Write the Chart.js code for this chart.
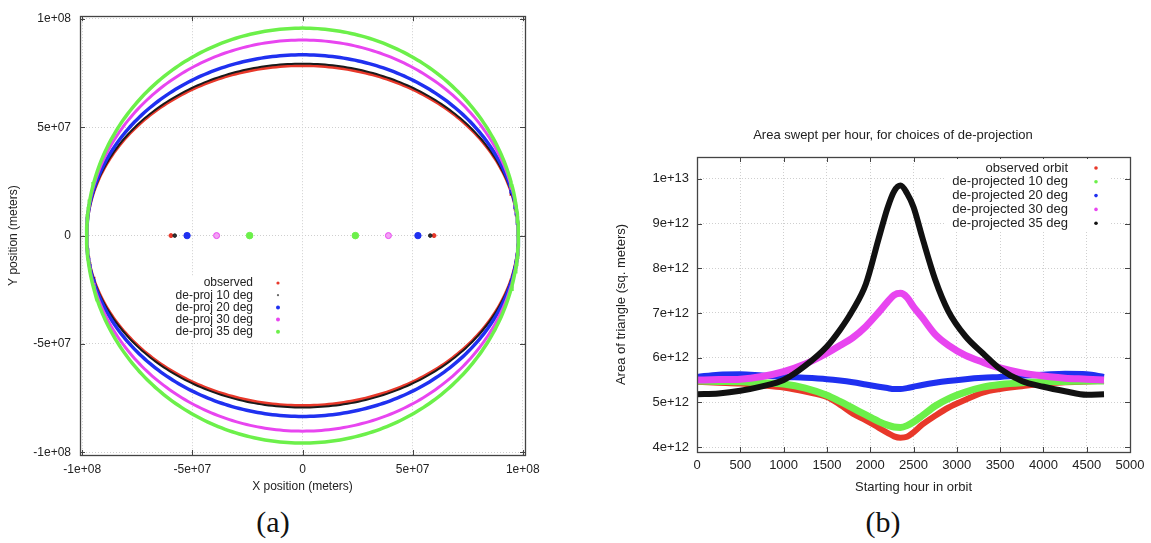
<!DOCTYPE html>
<html lang="en">
<head>
<meta charset="UTF-8">
<title>Orbit de-projection</title>
<script src="https://cdn.jsdelivr.net/npm/chart.js"></script>
<style>
  body { margin: 0; background: #fff; width: 1151px; height: 543px; position: relative; overflow: hidden; }
  canvas { position: absolute; }
  #orbitChart { left: 0; top: 0; }
  #areaChart { left: 580px; top: 110px; }
  .caption { position: absolute; font-family: 'Liberation Serif', serif; font-size: 30px; color: #111; transform: translate(-50%, -50%); }
</style>
</head>
<body>
<canvas id="orbitChart" width="570" height="500"></canvas>
<canvas id="areaChart" width="571" height="390"></canvas>
<div class="caption" style="left:273px; top:522px">(a)</div>
<div class="caption" style="left:883px; top:522px">(b)</div>
<script>
// (a) orbit outlines: semi-axes and focus offsets in meters
const orbitLabels = ['observed', 'de-proj 10 deg', 'de-proj 20 deg', 'de-proj 30 deg', 'de-proj 35 deg'];
const orbitColors = ['#e8382a', '#1a1a1a', '#1f30f0', '#e845f0', '#6cf04a'];
const orbitKeyColors = ['#e8382a', '#666666', '#1f30f0', '#e845f0', '#6cf04a'];
const semiMajor = [0.98e8, 0.98e8, 0.98e8, 0.98e8, 0.98e8];
const semiMinor = [0.784e8, 0.793e8, 0.834e8, 0.902e8, 0.957e8];
const focusX = [5.97e7, 5.8e7, 5.24e7, 3.9e7, 2.4e7];
const orbitTicks = [-1e8, -5e7, 0, 5e7, 1e8];
const orbitTickLabels = ['-1e+08', '-5e+07', '0', '5e+07', '1e+08'];

// (b) area swept per hour, in units of 1e12 sq. meters
const areaTitle = 'Area swept per hour, for choices of de-projection';
const areaLabels = ['observed orbit', 'de-projected 10 deg', 'de-projected 20 deg', 'de-projected 30 deg', 'de-projected 35 deg'];
const areaColors = ['#e8382a', '#6cf04a', '#1f30f0', '#e845f0', '#111111'];
const hours = [0, 250, 500, 750, 1000, 1250, 1500, 1650, 1800, 1950, 2100, 2200, 2275, 2350, 2425, 2500, 2600, 2750, 2900, 3100, 3300, 3500, 3750, 4000, 4250, 4500, 4700];
const areaObserved = [5.46, 5.44, 5.42, 5.38, 5.33, 5.24, 5.12, 4.95, 4.75, 4.60, 4.43, 4.32, 4.24, 4.21, 4.23, 4.33, 4.50, 4.70, 4.88, 5.06, 5.22, 5.30, 5.36, 5.42, 5.45, 5.47, 5.48];
const area10 = [5.48, 5.47, 5.46, 5.44, 5.41, 5.32, 5.16, 5.02, 4.87, 4.72, 4.57, 4.49, 4.45, 4.44, 4.48, 4.56, 4.70, 4.92, 5.08, 5.23, 5.34, 5.40, 5.44, 5.46, 5.47, 5.48, 5.48];
const area20 = [5.57, 5.62, 5.63, 5.60, 5.57, 5.55, 5.52, 5.49, 5.45, 5.40, 5.35, 5.32, 5.30, 5.30, 5.32, 5.35, 5.39, 5.44, 5.48, 5.52, 5.55, 5.57, 5.60, 5.62, 5.64, 5.63, 5.57];
const area30 = [5.50, 5.51, 5.52, 5.58, 5.69, 5.86, 6.10, 6.27, 6.45, 6.70, 7.02, 7.25, 7.40, 7.44, 7.35, 7.14, 6.90, 6.52, 6.28, 6.05, 5.90, 5.77, 5.66, 5.59, 5.54, 5.52, 5.50];
const area35 = [5.18, 5.20, 5.26, 5.36, 5.50, 5.82, 6.25, 6.62, 7.07, 7.65, 8.68, 9.35, 9.72, 9.85, 9.68, 9.37, 8.70, 7.75, 7.05, 6.48, 6.10, 5.75, 5.48, 5.35, 5.25, 5.17, 5.18];
const hourTicks = [0, 500, 1000, 1500, 2000, 2500, 3000, 3500, 4000, 4500, 5000];
const areaTicks = [4, 5, 6, 7, 8, 9, 10];
const areaTickLabels = ['4e+12', '5e+12', '6e+12', '7e+12', '8e+12', '9e+12', '1e+13'];

Chart.defaults.font.family = "'Liberation Sans', Arial, sans-serif";
Chart.defaults.color = '#222';

// box around the plot with inward tick marks on all four sides
const framePlugin = {
  id: 'frame',
  afterDraw(chart) {
    const { ctx, chartArea: a, scales } = chart;
    const t = 5;
    ctx.save();
    ctx.strokeStyle = '#444';
    ctx.lineWidth = 1;
    ctx.beginPath();
    scales.x.ticks.forEach(tk => {
      const px = Math.round(scales.x.getPixelForValue(tk.value)) + 0.5;
      ctx.moveTo(px, a.top); ctx.lineTo(px, a.top + t);
      ctx.moveTo(px, a.bottom); ctx.lineTo(px, a.bottom - t);
    });
    scales.y.ticks.forEach(tk => {
      const py = Math.round(scales.y.getPixelForValue(tk.value)) + 0.5;
      ctx.moveTo(a.left, py); ctx.lineTo(a.left + t, py);
      ctx.moveTo(a.right, py); ctx.lineTo(a.right - t, py);
    });
    ctx.stroke();
    ctx.lineWidth = 1.3;
    ctx.strokeRect(Math.round(a.left) + 0.5, Math.round(a.top) + 0.5, Math.round(a.right - a.left), Math.round(a.bottom - a.top));
    ctx.restore();
  }
};

// key with right-aligned text and a dot marker to its right, plus an optional heading
const keyPlugin = {
  id: 'key',
  afterDraw(chart, args, o) {
    const ctx = chart.ctx;
    ctx.save();
    ctx.font = o.font;
    ctx.textBaseline = 'middle';
    if (o.heading) {
      ctx.fillStyle = '#222';
      ctx.textAlign = 'center';
      ctx.fillText(o.heading, o.headingX, o.headingY);
    }
    ctx.fillStyle = '#fff';
    ctx.fillRect(o.box[0], o.box[1], o.box[2], o.box[3]);
    ctx.textAlign = 'right';
    o.labels.forEach((text, i) => {
      const y = o.y + i * o.step;
      ctx.fillStyle = '#222';
      ctx.fillText(text, o.textRight, y);
      ctx.fillStyle = o.colors[i];
      ctx.beginPath();
      ctx.arc(o.markX, y, o.radii[i], 0, Math.PI * 2);
      ctx.fill();
    });
    ctx.restore();
  }
};

function orbitPoints(a, b) {
  const pts = [];
  for (let k = 0; k <= 360; k++) {
    const t = k * Math.PI / 180;
    pts.push({ x: a * Math.cos(t), y: b * Math.sin(t) });
  }
  return pts;
}

const outlineWidths = [3, 2, 3.5, 3, 3.5];
const focusRadii = [2, 1.8, 3.2, 3, 3.3];
const focusFill = ['#e8382a', '#333333', '#1f30f0', '#f3a2f5', '#6cf04a'];

const orbitSets = [];
orbitLabels.forEach((name, i) => {
  orbitSets.push({
    label: name,
    data: orbitPoints(semiMajor[i], semiMinor[i]),
    showLine: true,
    borderColor: orbitColors[i],
    borderWidth: outlineWidths[i],
    pointRadius: 0,
    tension: 0,
    order: 10 - i
  });
  orbitSets.push({
    label: name + ' foci',
    data: [{ x: -focusX[i], y: 0 }, { x: focusX[i], y: 0 }],
    pointRadius: focusRadii[i],
    pointBackgroundColor: focusFill[i],
    pointBorderColor: orbitColors[i],
    pointBorderWidth: 1,
    order: 5 - i
  });
});

function fixedTicks(values) {
  return scale => { scale.ticks = values.map(v => ({ value: v })); };
}

new Chart(document.getElementById('orbitChart'), {
  type: 'scatter',
  data: { datasets: orbitSets },
  options: {
    responsive: false,
    animation: false,
    layout: { padding: { left: 0, right: 45, top: 10, bottom: 0 } },
    plugins: {
      legend: { display: false },
      tooltip: { enabled: false },
      key: {
        labels: orbitLabels, colors: orbitKeyColors, radii: [1.6, 1.1, 2, 2, 2],
        font: "12px 'Liberation Sans', Arial, sans-serif",
        textRight: 253, markX: 278, y: 283, step: 12.2,
        box: [168, 276, 122, 63]
      }
    },
    scales: {
      x: {
        type: 'linear', min: -1.01e8, max: 1.01e8,
        afterBuildTicks: fixedTicks(orbitTicks),
        afterFit: s => { s.height = 45; },
        ticks: { font: { size: 12 }, padding: 7, maxRotation: 0, callback: (v, i) => orbitTickLabels[i] },
        grid: { color: '#cfcfcf', drawTicks: false },
        border: { display: false, dash: [1, 2] },
        title: { display: true, text: 'X position (meters)', font: { size: 12 }, padding: { top: 0, bottom: 6 } }
      },
      y: {
        type: 'linear', min: -1.012e8, max: 1.012e8,
        afterBuildTicks: fixedTicks(orbitTicks),
        afterFit: s => { s.width = 80; },
        ticks: { font: { size: 12 }, padding: 9, callback: (v, i) => orbitTickLabels[i] },
        grid: { color: '#cfcfcf', drawTicks: false },
        border: { display: false, dash: [1, 2] },
        title: { display: true, text: 'Y position (meters)', font: { size: 12 }, padding: { top: 6, bottom: 0 } }
      }
    }
  },
  plugins: [framePlugin, keyPlugin]
});

const areaSeries = [areaObserved, area10, area20, area30, area35];
const bandWidths = [6, 7, 6, 7, 6];

new Chart(document.getElementById('areaChart'), {
  type: 'scatter',
  data: {
    datasets: areaSeries.map((vals, i) => ({
      label: areaLabels[i],
      data: hours.map((h, k) => ({ x: h, y: vals[k] })),
      showLine: true,
      borderColor: areaColors[i],
      borderWidth: bandWidths[i],
      pointRadius: 0,
      cubicInterpolationMode: 'monotone',
      order: 5 - i
    }))
  },
  options: {
    responsive: false,
    animation: false,
    layout: { padding: { left: 0, right: 21, top: 47, bottom: 0 } },
    plugins: {
      legend: { display: false },
      tooltip: { enabled: false },
      key: {
        heading: areaTitle, headingX: 313, headingY: 25,
        labels: areaLabels, colors: areaColors, radii: [1.8, 1.8, 1.8, 1.8, 1.8],
        font: "13px 'Liberation Sans', Arial, sans-serif",
        textRight: 488, markX: 516, y: 58, step: 13.8,
        box: [364, 49, 166, 72]
      }
    },
    scales: {
      x: {
        type: 'linear', min: 0, max: 5000,
        afterBuildTicks: fixedTicks(hourTicks),
        afterFit: s => { s.height = 48; },
        ticks: { font: { size: 13 }, padding: 6, maxRotation: 0, callback: v => String(v) },
        grid: { color: '#cfcfcf', drawTicks: false },
        border: { display: false, dash: [1, 2] },
        title: { display: true, text: 'Starting hour in orbit', font: { size: 13 }, padding: { top: 0, bottom: 5 } }
      },
      y: {
        type: 'linear', min: 3.89, max: 10.49,
        afterBuildTicks: fixedTicks(areaTicks),
        afterFit: s => { s.width = 117; },
        ticks: { font: { size: 13 }, padding: 8, callback: (v, i) => areaTickLabels[i] },
        grid: { color: '#cfcfcf', drawTicks: false },
        border: { display: false, dash: [1, 2] },
        title: { display: true, text: 'Area of triangle (sq. meters)', font: { size: 13 }, padding: { top: 34, bottom: 0 } }
      }
    }
  },
  plugins: [framePlugin, keyPlugin]
});
</script>
</body>
</html>
